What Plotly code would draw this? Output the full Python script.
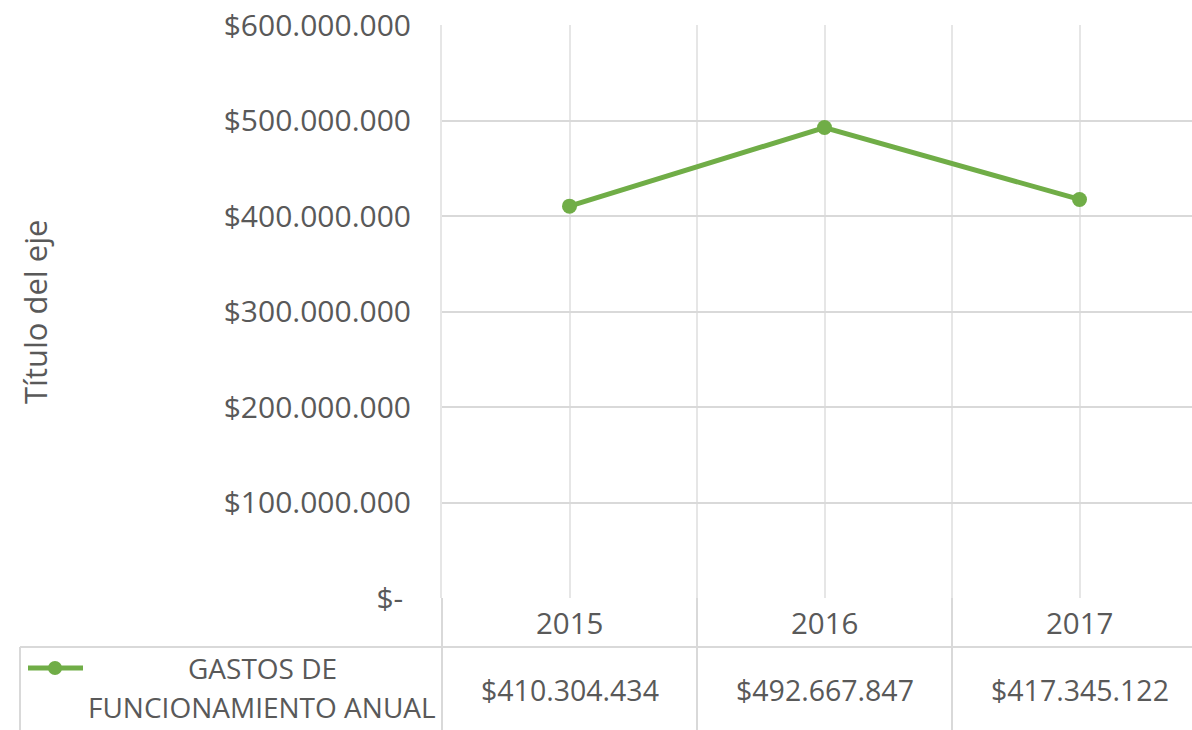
import plotly.graph_objects as go

# ---- data ----
years = ["2015", "2016", "2017"]
gastos = [410304434, 492667847, 417345122]
series_name = "GASTOS DE<br>FUNCIONAMIENTO ANUAL"
y_ticks = [0, 100000000, 200000000, 300000000, 400000000, 500000000, 600000000]
axis_title = "Título del eje"

GREEN = "#70ad47"
TXT = "#595959"
GRID = "#d9d9d9"
VGRID = "#e6e6e6"
FONT = "Open Sans"

W, H = 1192, 730
L, R, T, B = 442, 0, 25, 132

def money(v):
    # accounting style: zero shown as "$-" followed by padding
    return "$-\u00a0" if v == 0 else "$" + f"{v:,}".replace(",", ".")

xs = list(range(len(years)))
xmin, xmax = -0.5, -0.5 + (W - L - R) / 255.0

fig = go.Figure()
fig.add_trace(go.Scatter(
    x=xs, y=gastos, mode="lines+markers",
    line=dict(color=GREEN, width=5),
    marker=dict(color=GREEN, size=15),
    showlegend=False, hoverinfo="skip", cliponaxis=False,
))

fig.update_layout(
    width=W, height=H,
    margin=dict(l=L, r=R, t=T, b=B, pad=0),
    plot_bgcolor="white", paper_bgcolor="white",
    font=dict(family=FONT, size=28, color=TXT),
    xaxis=dict(
        range=[xmin, xmax], showticklabels=False, zeroline=False,
        tickvals=[i - 0.5 for i in xs] + [len(xs) - 0.5],
        showgrid=True, gridcolor=VGRID, gridwidth=2,
        minor=dict(tickvals=xs, showgrid=True, gridcolor=VGRID, gridwidth=2),
        fixedrange=True,
    ),
    yaxis=dict(
        range=[0, 600000000], tickvals=y_ticks,
        ticktext=[money(v) for v in y_ticks],
        showgrid=True, gridcolor=GRID, gridwidth=2, zeroline=False,
        showline=True, linecolor=VGRID, linewidth=2,
        ticklabelstandoff=23, tickfont=dict(family=FONT, size=30, color=TXT),
        fixedrange=True,
    ),
)

def px_x(px):
    return (px - L) / (W - L - R)

def px_y(py):
    return (H - B - py) / (H - T - B)

def cat_x(v):
    return (v - xmin) / (xmax - xmin)

shapes = []
line_style = dict(color=GRID, width=2)
shapes.append(dict(type="line", xref="paper", yref="paper",
                   x0=px_x(20), x1=1, y0=px_y(647), y1=px_y(647), line=line_style))
for i in xs:
    xb = cat_x(i - 0.5)
    shapes.append(dict(type="line", xref="paper", yref="paper",
                       x0=xb, x1=xb, y0=0, y1=px_y(H), line=line_style))
shapes.append(dict(type="line", xref="paper", yref="paper",
                   x0=px_x(20), x1=px_x(20), y0=px_y(647), y1=px_y(H), line=line_style))
# legend key
shapes.append(dict(type="line", xref="paper", yref="paper",
                   x0=px_x(28), x1=px_x(83), y0=px_y(668), y1=px_y(668),
                   line=dict(color=GREEN, width=5)))
shapes.append(dict(type="circle", xref="paper", yref="paper",
                   x0=px_x(55 - 7), x1=px_x(55 + 7), y0=px_y(668 - 7), y1=px_y(668 + 7),
                   fillcolor=GREEN, line=dict(width=0)))
fig.update_layout(shapes=shapes)

ann = []
for i, (yr, v) in enumerate(zip(years, gastos)):
    ann.append(dict(x=cat_x(i), y=px_y(622), xref="paper", yref="paper",
                    text=yr, showarrow=False, xanchor="center", yanchor="middle",
                    font=dict(family=FONT, size=29.5, color=TXT)))
    ann.append(dict(x=cat_x(i), y=px_y(690), xref="paper", yref="paper",
                    text=money(v), showarrow=False, xanchor="center", yanchor="middle",
                    font=dict(family=FONT, size=28.5, color=TXT)))
for k, part in enumerate(series_name.split("<br>")):
    ann.append(dict(x=px_x(262), y=px_y(668 + 39 * k), xref="paper", yref="paper",
                    text=part, showarrow=False, xanchor="center", yanchor="middle",
                    font=dict(family=FONT, size=28, color=TXT)))
ann.append(dict(x=px_x(35), y=px_y(312), xref="paper", yref="paper",
                text=axis_title, textangle=-90, showarrow=False,
                xanchor="center", yanchor="middle",
                font=dict(family=FONT, size=31, color=TXT)))
fig.update_layout(annotations=ann)

fig.write_html("out.html", config={"displayModeBar": False},
               post_script="document.body.style.margin='0';")
